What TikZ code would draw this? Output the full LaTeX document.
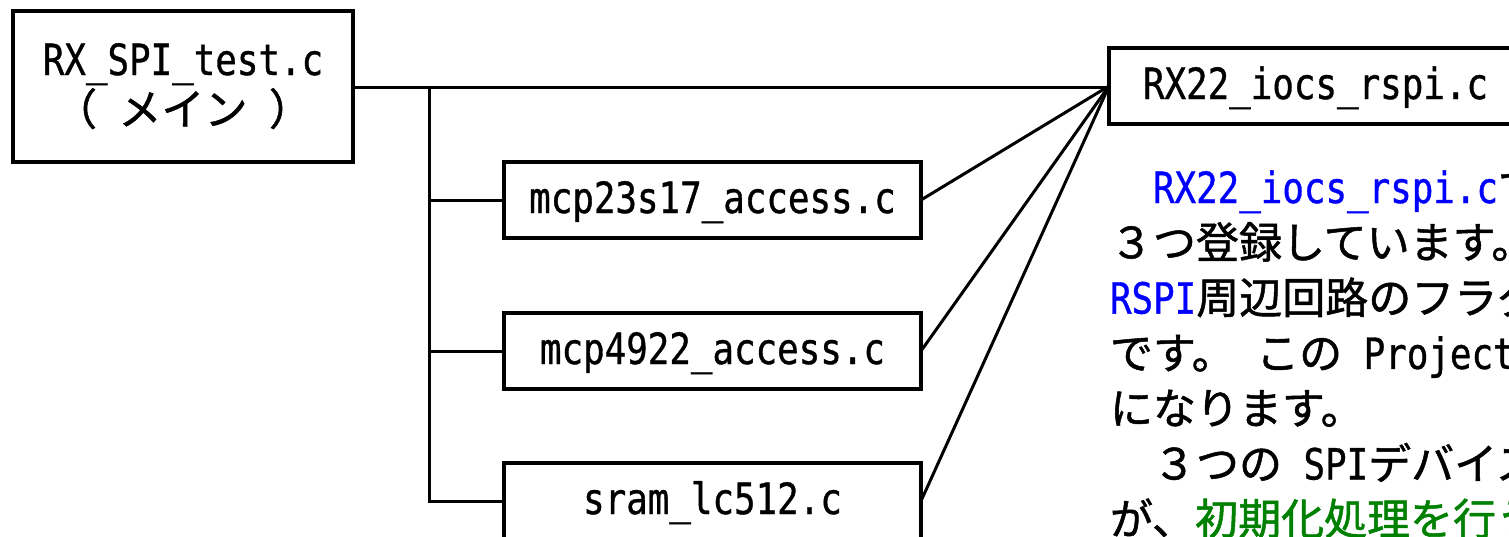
\documentclass[tikz,border=0pt]{standalone}
\usepackage{fontspec}
\newfontfamily\jp[FakeBold=1.2]{Noto Sans CJK JP}
\newfontfamily\lat[FakeStretch=0.833,FakeBold=0.8]{DejaVu Sans Mono}
\newcommand\hsp{\hspace*{21.5pt}}
\newcommand\fsp{\hspace*{43pt}}
\definecolor{tblue}{RGB}{0,0,255}
\definecolor{tgreen}{RGB}{0,128,0}
\begin{document}
\begin{tikzpicture}[x=1pt,y=-1pt,
  every node/.style={font={\jp\fontsize{43}{55}\selectfont}, inner sep=0pt, outer sep=0pt},
  box/.style={draw, line width=3.2pt, text height=32pt, text depth=6pt, minimum height=76pt},
  plain/.style={draw=none},
  txt/.style={anchor=base west},
  conn/.style={line width=3pt}]
\useasboundingbox (0,0) rectangle (1509,536);
\clip (0,0) rectangle (1509,536);
% boxes
\node[box, minimum width=340pt, minimum height=151pt] (main) at (183,86.5) {};
\node[plain, anchor=base] (mainA) at (183,75) {\lat RX\_SPI\_test.c};
\node[plain, anchor=base] (mainB) at (183,125) {（\hsp メイン\hsp ）};
\node[box, minimum width=413pt] (rx) at (1315.5,86) {\lat RX22\_iocs\_rspi.c};
\node[box, minimum width=417pt] (mcpa) at (712.5,200) {\lat mcp23s17\_access.c};
\node[box, minimum width=417pt] (mcpb) at (712.5,351) {\lat mcp4922\_access.c};
\node[box, minimum width=417pt] (sram) at (712.5,501) {\lat sram\_lc512.c};
% connectors
\coordinate (j) at (429,87);
\draw[conn] (main.east |- j) -- (rx.west |- j);
\draw[conn] (j) -- (j |- sram.west) -- (sram.west);
\draw[conn] (j |- mcpa.west) -- (mcpa.west);
\draw[conn] (j |- mcpb.west) -- (mcpb.west);
\draw[conn] (mcpa.east) -- (rx.west);
\draw[conn] (mcpb.east) -- (rx.west);
\draw[conn] (sram.east) -- (rx.west);
% description text
\node[txt] (l1) at (1110,203) {\fsp{\color{tblue}\lat RX22\_iocs\_rspi.c}で};
\node[txt] (l2) at (1110,258.3) {３つ登録しています。};
\node[txt] (l3) at (1110,313.6) {{\color{tblue}\lat RSPI}周辺回路のフラグ};
\node[txt] (l4) at (1110,368.9) {です。\hsp この\hsp{\lat Project}};
\node[txt] (l5) at (1110,424.2) {になります。};
\node[txt] (l6) at (1110,479.5) {\fsp ３つの\hsp{\lat SPI}デバイス};
\node[txt] (l7) at (1110,534.8) {が、{\color{tgreen}初期化処理を行う}};
\end{tikzpicture}
\end{document}
